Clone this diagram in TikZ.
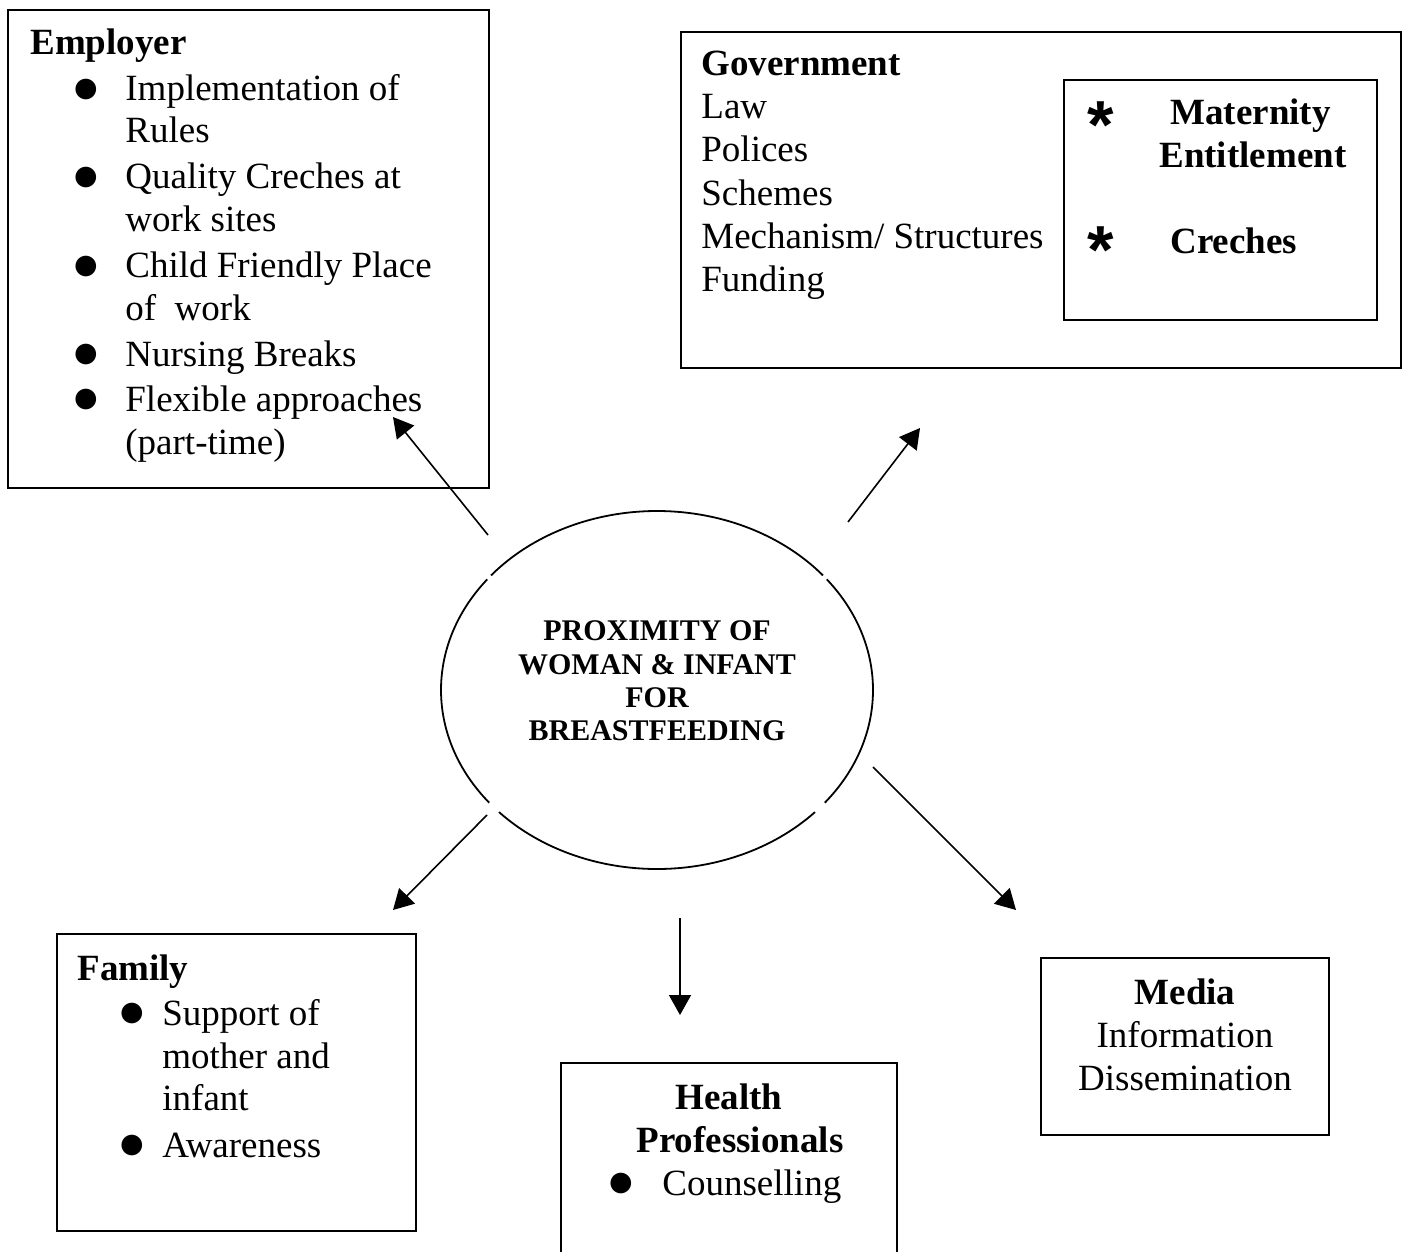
\documentclass[tikz,border=0pt]{standalone}
\usepackage{fontspec}
\setmainfont{Liberation Serif}
\newfontfamily\starfont{Liberation Sans}
\newfontfamily\symfont{DejaVu Sans}
\usetikzlibrary{arrows.meta,fit,calc}

\newcommand{\bodysize}{\fontsize{18.5}{21.5}\selectfont}

\begin{document}
\begin{tikzpicture}[x=0.5pt,y=-0.5pt,
  frame/.style={draw, line width=1pt, inner sep=0pt},
  txt/.style={anchor=base west, inner sep=0pt, font=\bodysize, yshift=-1pt},
  ctxt/.style={anchor=base, inner sep=0pt, font=\bodysize, yshift=-1pt},
  hd/.style={anchor=base west, inner sep=0pt, font=\bodysize\bfseries, yshift=-1pt},
  chd/.style={anchor=base, inner sep=0pt, font=\bodysize\bfseries, yshift=-1pt},
  dot/.style={anchor=base, inner sep=0pt, font=\fontsize{13.5}{13.5}\selectfont\symfont, yshift=1.2pt},
  star/.style={anchor=base, inner sep=0pt, font=\fontsize{34}{34}\selectfont\starfont\bfseries},
  hubtxt/.style={anchor=base, inner sep=0pt, font=\fontsize{15}{17}\selectfont\bfseries},
  link/.style={line width=0.8pt, -{Triangle[length=10pt,width=11pt]}},
  rim/.style={line width=0.9pt}
]
% canvas
\fill[white] (0,0) rectangle (1406,1251);
\useasboundingbox (0,0) rectangle (1406,1251);

% ---------- Employer ----------
\node[frame, fit={(8,10) (489,488)}] (employer) {};
\node[hd]  (emph) at (30,53)  {Employer};
\node[dot] (empb1) at (86,99)  {●};
\node[txt] (emp1) at (125,99)  {Implementation of};
\node[txt] (emp2) at (125,141) {Rules};
\node[dot] (empb2) at (86,187) {●};
\node[txt] (emp3) at (125,187) {Quality Creches at};
\node[txt] (emp4) at (125,230) {work sites};
\node[dot] (empb3) at (86,276) {●};
\node[txt] (emp5) at (125,276) {Child Friendly Place};
\node[txt] (emp6) at (125,319) {of\ \ work};
\node[dot] (empb4) at (86,364) {●};
\node[txt] (emp7) at (125,364) {Nursing Breaks};
\node[dot] (empb5) at (86,409) {●};
\node[txt] (emp8) at (125,409) {Flexible approaches};
\node[txt] (emp9) at (125,452) {(part-time)};

% ---------- Government ----------
\node[frame, fit={(681,32) (1401,368)}] (government) {};
\node[hd]  (govh) at (701,74)  {Government};
\node[txt] (gov1) at (701,117) {Law};
\node[txt] (gov2) at (701,160) {Polices};
\node[txt] (gov3) at (701,204) {Schemes};
\node[txt] (gov4) at (701,247) {Mechanism/ Structures};
\node[txt] (gov5) at (701,290) {Funding};

\node[frame, fit={(1064,80) (1377,320)}] (entitle) {};
\node[star] (star1) at (1101,149) {*};
\node[hd]   (ent1) at (1170,123) {Maternity};
\node[hd]   (ent2) at (1159,166) {Entitlement};
\node[star] (star2) at (1101,274) {*};
\node[hd]   (ent3) at (1170,252) {Creches};

% ---------- Family ----------
\node[frame, fit={(57,934) (416,1231)}] (family) {};
\node[hd]  (famh) at (77,978)   {Family};
\node[dot] (famb1) at (132,1023) {●};
\node[txt] (fam1) at (162,1023) {Support of};
\node[txt] (fam2) at (162,1066) {mother and};
\node[txt] (fam3) at (162,1108) {infant};
\node[dot] (famb2) at (132,1155) {●};
\node[txt] (fam4) at (162,1155) {Awareness};

% ---------- Health Professionals (box runs off the lower edge) ----------
\coordinate (hpbl) at (561,1253);
\coordinate (hptl) at (561,1063);
\coordinate (hptr) at (897,1063);
\coordinate (hpbr) at (897,1253);
\draw[line width=1pt] (hpbl) -- (hptl) -- (hptr) -- (hpbr);
\node[chd] (hph1) at (729,1107) {Health};
\node[chd] (hph2) at (740,1150) {Professionals};
\node[dot] (hpb1) at (621,1193) {●};
\node[txt] (hp1) at (662,1193) {Counselling};

% ---------- Media ----------
\node[frame, fit={(1041,958) (1329,1135)}] (media) {};
\node[chd]  (medh) at (1185,1002) {Media};
\node[ctxt] (med1) at (1185,1045) {Information};
\node[ctxt] (med2) at (1185,1088) {Dissemination};

% ---------- central ellipse ----------
\coordinate (hub) at (657,690);
\draw[rim] ($(hub)+(39.8:108pt and 89.5pt)$)  arc[start angle=39.8, end angle=140.2, x radius=108pt, y radius=89.5pt];
\draw[rim] ($(hub)+(141.8:108pt and 89.5pt)$) arc[start angle=141.8, end angle=219, x radius=108pt, y radius=89.5pt];
\draw[rim] ($(hub)+(223:108pt and 89.5pt)$)   arc[start angle=223, end angle=317, x radius=108pt, y radius=89.5pt];
\draw[rim] ($(hub)+(321:108pt and 89.5pt)$)   arc[start angle=321, end angle=398.2, x radius=108pt, y radius=89.5pt];
\node[hubtxt] (hub1) at (657,640) {PROXIMITY OF};
\node[hubtxt] (hub2) at (657,674) {WOMAN \& INFANT};
\node[hubtxt] (hub3) at (657,707) {FOR};
\node[hubtxt] (hub4) at (657,740) {BREASTFEEDING};

% ---------- arrows ----------
\coordinate (aemp0) at (488,535);  \coordinate (aemp1) at (393,417);
\coordinate (agov0) at (848,522);  \coordinate (agov1) at (920,428);
\coordinate (afam0) at (487,815);  \coordinate (afam1) at (393,910);
\coordinate (ahp0)  at (680,918);  \coordinate (ahp1)  at (680,1015);
\coordinate (amed0) at (873,767);  \coordinate (amed1) at (1016,910);
\draw[link] (aemp0) -- (aemp1);
\draw[link] (agov0) -- (agov1);
\draw[link] (afam0) -- (afam1);
\draw[link] (ahp0)  -- (ahp1);
\draw[link] (amed0) -- (amed1);
\end{tikzpicture}
\end{document}
